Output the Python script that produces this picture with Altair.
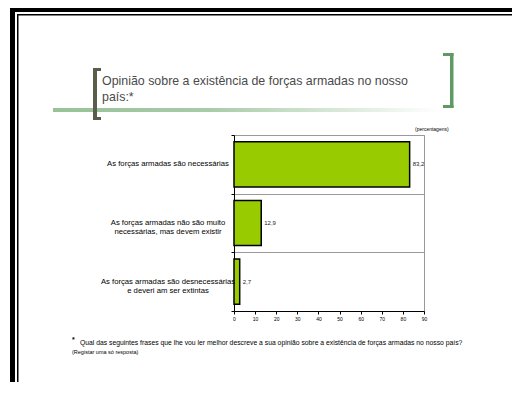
import altair as alt
import pandas as pd

categories = [
    "As forças armadas são necessárias",
    "As forças armadas não são muito\nnecessárias, mas devem existir",
    "As forças armadas são desnecessárias\ne deveri am ser extintas",
]
values = [83.2, 12.9, 2.7]
value_labels = ["83,2", "12,9", "2,7"]
x_ticks = [0, 10, 20, 30, 40, 50, 60, 70, 80, 90]

title_lines = ["Opinião sobre a existência de forças armadas no nosso", "país:*"]
unit_note = "(percentagens)"
footnote_1 = "Qual das seguintes frases que lhe vou ler melhor descreve a sua opinião sobre a existência de forças armadas no nosso país?"
footnote_2 = "(Registar uma só resposta)"

df = pd.DataFrame({"cat": categories, "val": values, "lab": value_labels})

FONT = "Liberation Sans"
one = alt.Data(values=[{}])

y_enc = alt.Y(
    "cat:N", sort=categories, title=None,
    scale=alt.Scale(paddingInner=0, paddingOuter=0),
    axis=alt.Axis(labels=False, tickBand="extent", grid=True, gridColor="#999999",
                  domainColor="black", tickColor="black", tickSize=3),
)
x_enc = alt.X(
    "val:Q", title=None,
    scale=alt.Scale(domain=[0, 90], nice=False),
    axis=alt.Axis(values=x_ticks, grid=False, labelFontSize=5, labelFont=FONT,
                  labelColor="black", domainColor="black", tickColor="black",
                  tickSize=3, labelPadding=2, labelOverlap=False, labelSeparation=0,
                  labelBound=False, labelFlush=False),
)

bars = alt.Chart(df).mark_bar(
    color="#99CC00", stroke="black", strokeWidth=1.5, height={"band": 0.77}
).encode(x=x_enc, y=y_enc)

bar_text = alt.Chart(df).mark_text(
    align="left", dx=3, fontSize=6, font=FONT, color="#222222"
).encode(x=x_enc, y=y_enc, text="lab:N")

cat_text = alt.Chart(df).mark_text(
    align="center", fontSize=7.7, font=FONT, color="#000000", lineBreak="\n", lineHeight=9
).encode(x=alt.value(-66), y=y_enc, text="cat:N")


def rect(x, x2, y, y2, color):
    return alt.Chart(one).mark_rect(color=color).encode(
        x=alt.value(x), x2=alt.value(x2), y=alt.value(y), y2=alt.value(y2)
    )


def label(txt, x, y, size, align="left", color="black", weight="normal"):
    return alt.Chart(one).mark_text(
        align=align, baseline="middle", fontSize=size, font=FONT, color=color, fontWeight=weight
    ).encode(x=alt.value(x), y=alt.value(y), text=alt.value(txt))


grad = alt.Gradient(
    gradient="linear",
    stops=[alt.GradientStop(color="#98c298", offset=0),
           alt.GradientStop(color="#a8cba8", offset=0.4),
           alt.GradientStop(color="#ffffff", offset=1)],
    x1=0, x2=1, y1=0, y2=0,
)
green_line = alt.Chart(one).mark_rect(color=grad).encode(
    x=alt.value(-181), x2=alt.value(206), y=alt.value(-27), y2=alt.value(-23)
)

BR_L = "#5c5c4a"
BR_R = "#5f9a65"
decor = [
    # slide frame
    rect(-224, -219, -130, 270, "black"),
    rect(-224, 300, -130, -123, "black"),
    rect(-217, -215.5, -121, 270, "black"),
    rect(-217, 300, -121, -119.5, "black"),
    green_line,
    # left bracket
    rect(-141, -137, -67, -15, BR_L),
    rect(-141, -133, -67, -64, BR_L),
    rect(-141, -133, -18, -15, BR_L),
    # right bracket
    rect(216, 219.5, -82, -27, BR_R),
    rect(209, 219.5, -82, -79, BR_R),
    rect(209, 219.5, -30, -27, BR_R),
    # texts
    label(title_lines[0], -132, -54.5, 12.4, color="#4a4a4a"),
    label(title_lines[1], -132, -38, 12.4, color="#4a4a4a"),
    label(unit_note, 181, -6, 5),
    label("*", -162, 205, 7, weight="bold"),
    label(footnote_1, -154, 208, 6.8),
    label(footnote_2, -162, 217, 5.5),
]

chart = alt.layer(bars, bar_text, cat_text, *decor).properties(
    width=190, height=176,
    autosize=alt.AutoSizeParams(type="none"),
    padding={"left": 226, "top": 127, "right": 88, "bottom": 71},
    background="white",
).configure_view(stroke="#999999", strokeWidth=1).configure_axis(labelOverlap=False)

chart.save("out.html", embed_options={"renderer": "svg", "actions": False})
